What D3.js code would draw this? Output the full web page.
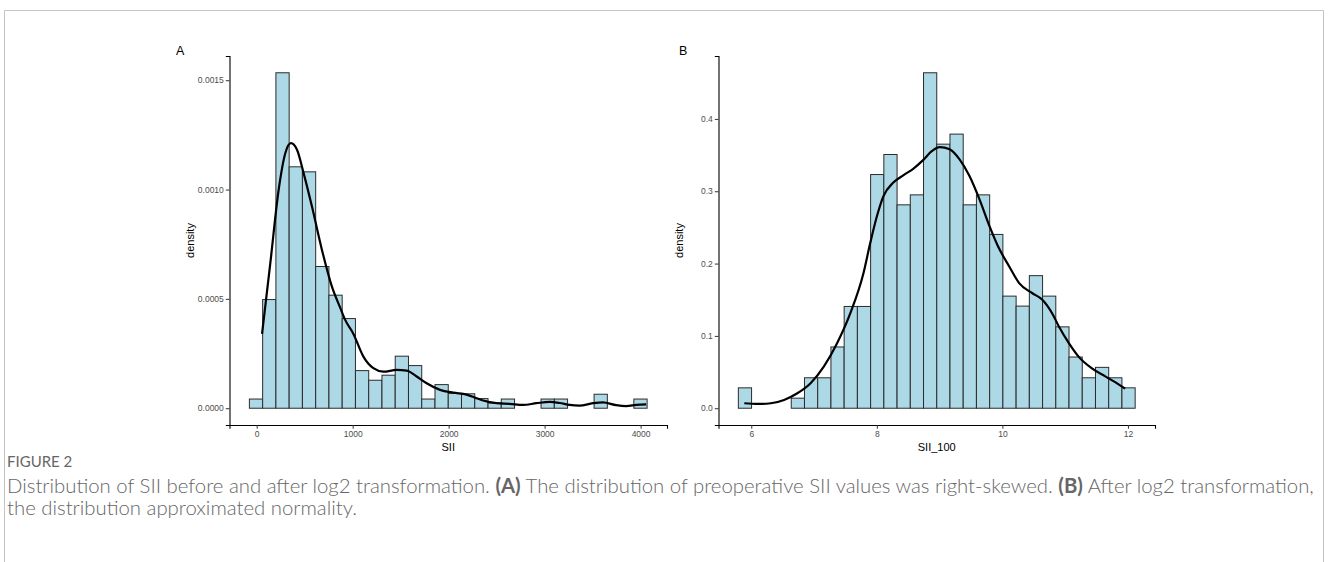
<!DOCTYPE html>
<html>
<head>
<meta charset="utf-8">
<script src="https://cdn.jsdelivr.net/npm/d3@7"></script>
<style>
body { margin: 0; background: #fff; }
</style>
</head>
<body>
<script>
// panel A: raw SII, 30 bins, density scale
var siiBinStart = -76, siiBinWidth = 138.13;
var siiDensity = [0.000042, 0.000497, 0.001534, 0.001104, 0.001081, 0.000648, 0.000517, 0.000410,
  0.000172, 0.000128, 0.000151, 0.000238, 0.000195, 0.000042, 0.000108, 0.000068, 0.000066,
  0.000044, 0.000024, 0.000042, 0, 0, 0.000042, 0.000042, 0, 0, 0.000064, 0, 0, 0.000042];
var siiKdeX = [56, 142, 229, 298, 357, 420, 489, 576, 680, 784, 870, 922, 1008, 1112, 1216, 1320,
  1459, 1563, 1667, 1771, 1910, 2048, 2187, 2291, 2360, 2499, 2637, 2776, 2915, 3053, 3157,
  3261, 3364, 3503, 3607, 3746, 3850, 3954, 4058];
var siiKdeY = [0.00034, 0.000663, 0.000999, 0.001166, 0.001212, 0.001182, 0.001075, 0.000922,
  0.000724, 0.000556, 0.00046, 0.000404, 0.00034, 0.000236, 0.000183, 0.000167, 0.000175,
  0.000172, 0.000145, 0.000114, 0.000084, 0.000071, 0.000062, 0.000046, 0.000035, 0.000023,
  0.00002, 0.000015, 0.000023, 0.000029, 0.000024, 0.000015, 0.000012, 0.000023, 0.000027,
  0.000014, 0.00001, 0.000015, 0.000018];
var siiXTicks = [0, 1000, 2000, 3000, 4000];
var siiYTicks = [0, 0.0005, 0.0010, 0.0015];

// panel B: log2 SII (SII_100), 30 bins
var logBinStart = 5.794, logBinWidth = 0.2107;
var logDensity = [0.0282, 0, 0, 0, 0.0139, 0.0421, 0.0421, 0.0847, 0.1407, 0.1407, 0.3231, 0.3508,
  0.2812, 0.2950, 0.4638, 0.3651, 0.3790, 0.2812, 0.2950, 0.2403, 0.1550, 0.1412, 0.1833,
  0.1550, 0.1125, 0.0708, 0.0421, 0.0565, 0.0421, 0.0282];
var logKdeX = [5.889, 6.101, 6.312, 6.522, 6.734, 6.945, 7.155, 7.367, 7.578, 7.788, 7.894, 8.0,
  8.104, 8.263, 8.421, 8.579, 8.737, 8.870, 9.002, 9.160, 9.318, 9.476, 9.634, 9.793, 9.924,
  10.109, 10.267, 10.478, 10.636, 10.794, 10.9, 11.059, 11.217, 11.427, 11.639, 11.797, 11.956];
var logKdeY = [0.0069, 0.0059, 0.0069, 0.0115, 0.0207, 0.0346, 0.0575, 0.0899, 0.1314, 0.187,
  0.228, 0.265, 0.293, 0.312, 0.322, 0.331, 0.343, 0.355, 0.361, 0.358, 0.344, 0.321, 0.289,
  0.252, 0.225, 0.196, 0.173, 0.159, 0.150, 0.131, 0.113, 0.090, 0.071, 0.055, 0.044, 0.036, 0.027];
var logXTicks = [6, 8, 10, 12];
var logYTicks = [0, 0.1, 0.2, 0.3, 0.4];

var W = 1328, H = 562;
var svg = d3.select("body").append("svg")
  .attr("width", W)
  .attr("height", H)
  .style("font-family", "'Liberation Sans', Arial, sans-serif");

// figure frame
svg.append("path")
  .attr("d", "M4.5," + H + "V10.5H1323.5V" + H)
  .attr("fill", "none")
  .attr("stroke", "#c4c4c4")
  .attr("stroke-width", 1);

function panel(p) {
  var nb = p.dens.length;
  var lo = p.start, hi = p.start + nb * p.width;
  var padX = (hi - lo) * 0.05;
  var ymax = d3.max(p.dens);
  var x = d3.scaleLinear().domain([lo - padX, hi + padX]).range([p.left, p.right]);
  var y = d3.scaleLinear().domain([-ymax * 0.05, ymax * 1.05]).range([p.bottom, p.top]);

  var bins = p.dens.map(function(d, i) {
    return {x0: p.start + i * p.width, x1: p.start + (i + 1) * p.width, d: d};
  }).filter(function(b) { return b.d > 0; });

  var g = svg.append("g");
  g.selectAll(".bar")
    .data(bins)
    .enter().append("rect")
    .attr("class", "bar")
    .attr("x", function(b) { return x(b.x0); })
    .attr("width", function(b) { return x(b.x1) - x(b.x0); })
    .attr("y", function(b) { return y(b.d); })
    .attr("height", function(b) { return y(0) - y(b.d); })
    .attr("fill", "#add8e6")
    .attr("stroke", "#2b2b2b")
    .attr("stroke-width", 1);

  var line = d3.line()
    .x(function(d, i) { return x(p.kx[i]); })
    .y(function(d) { return y(d); })
    .curve(d3.curveMonotoneX);
  g.append("path")
    .datum(p.ky)
    .attr("d", line)
    .attr("fill", "none")
    .attr("stroke", "#000")
    .attr("stroke-width", 2.2);

  var xAxis = d3.axisBottom(x).tickValues(p.xt).tickSizeOuter(0).tickSize(3.7).tickPadding(2)
    .tickFormat(d3.format("d"));
  var yAxis = d3.axisLeft(y).tickValues(p.yt).tickSizeOuter(0).tickSize(3.7).tickPadding(2)
    .tickFormat(d3.format(p.yfmt));

  var gx = g.append("g")
    .attr("transform", "translate(0," + p.bottom + ")")
    .call(xAxis);
  var gy = g.append("g")
    .attr("transform", "translate(" + p.left + ",0)")
    .call(yAxis);
  [gx, gy].forEach(function(a) {
    a.select(".domain").attr("stroke", "#000").attr("stroke-width", 1.1);
    a.selectAll(".tick line").attr("stroke", "#333");
    a.selectAll(".tick text")
      .attr("fill", "#4d4d4d")
      .style("font-size", "8.5px")
      .style("font-family", "'Liberation Sans', Arial, sans-serif");
  });

  g.append("text")
    .attr("x", (p.left + p.right) / 2)
    .attr("y", p.bottom + 26)
    .attr("text-anchor", "middle")
    .style("font-size", "11px")
    .text(p.xlab);
  g.append("text")
    .attr("transform", "translate(" + (p.left - 36) + "," + ((p.top + p.bottom) / 2) + ") rotate(-90)")
    .attr("text-anchor", "middle")
    .style("font-size", "11px")
    .text("density");
  g.append("text")
    .attr("x", p.tagX)
    .attr("y", 55)
    .style("font-size", "12.5px")
    .text(p.tag);
}

panel({start: siiBinStart, width: siiBinWidth, dens: siiDensity, kx: siiKdeX, ky: siiKdeY,
  xt: siiXTicks, yt: siiYTicks, yfmt: ".4f", left: 229.5, right: 667, top: 56, bottom: 425,
  xlab: "SII", tag: "A", tagX: 176});
panel({start: logBinStart, width: logBinWidth, dens: logDensity, kx: logKdeX, ky: logKdeY,
  xt: logXTicks, yt: logYTicks, yfmt: ".1f", left: 718.5, right: 1155, top: 56, bottom: 425,
  xlab: "SII_100", tag: "B", tagX: 679});

// caption
var cap = svg.append("g")
  .style("font-family", "Lato, 'Open Sans', sans-serif")
  .attr("fill", "#666");
cap.append("text")
  .attr("x", 7)
  .attr("y", 467)
  .style("font-size", "15px")
  .attr("fill", "#666")
  .text("FIGURE 2");

var l1 = cap.append("text").attr("x", 7).attr("y", 493).style("font-size", "17px")
  .style("font-weight", 300);
l1.append("tspan").text("Distribution of SII before and after log2 transformation. ");
l1.append("tspan").style("font-weight", "bold").text("(A)");
l1.append("tspan").text(" The distribution of preoperative SII values was right-skewed. ");
l1.append("tspan").style("font-weight", "bold").text("(B)");
l1.append("tspan").text(" After log2 transformation,");
var l2 = cap.append("text").attr("x", 7).attr("y", 515).style("font-size", "17px")
  .style("font-weight", 300)
  .text("the distribution approximated normality.");

// fit first caption line to the frame width
var w1 = l1.node().getComputedTextLength();
var fs = 17 * 1308 / w1;
l1.style("font-size", fs + "px");
l2.style("font-size", fs + "px");
</script>
</body>
</html>
